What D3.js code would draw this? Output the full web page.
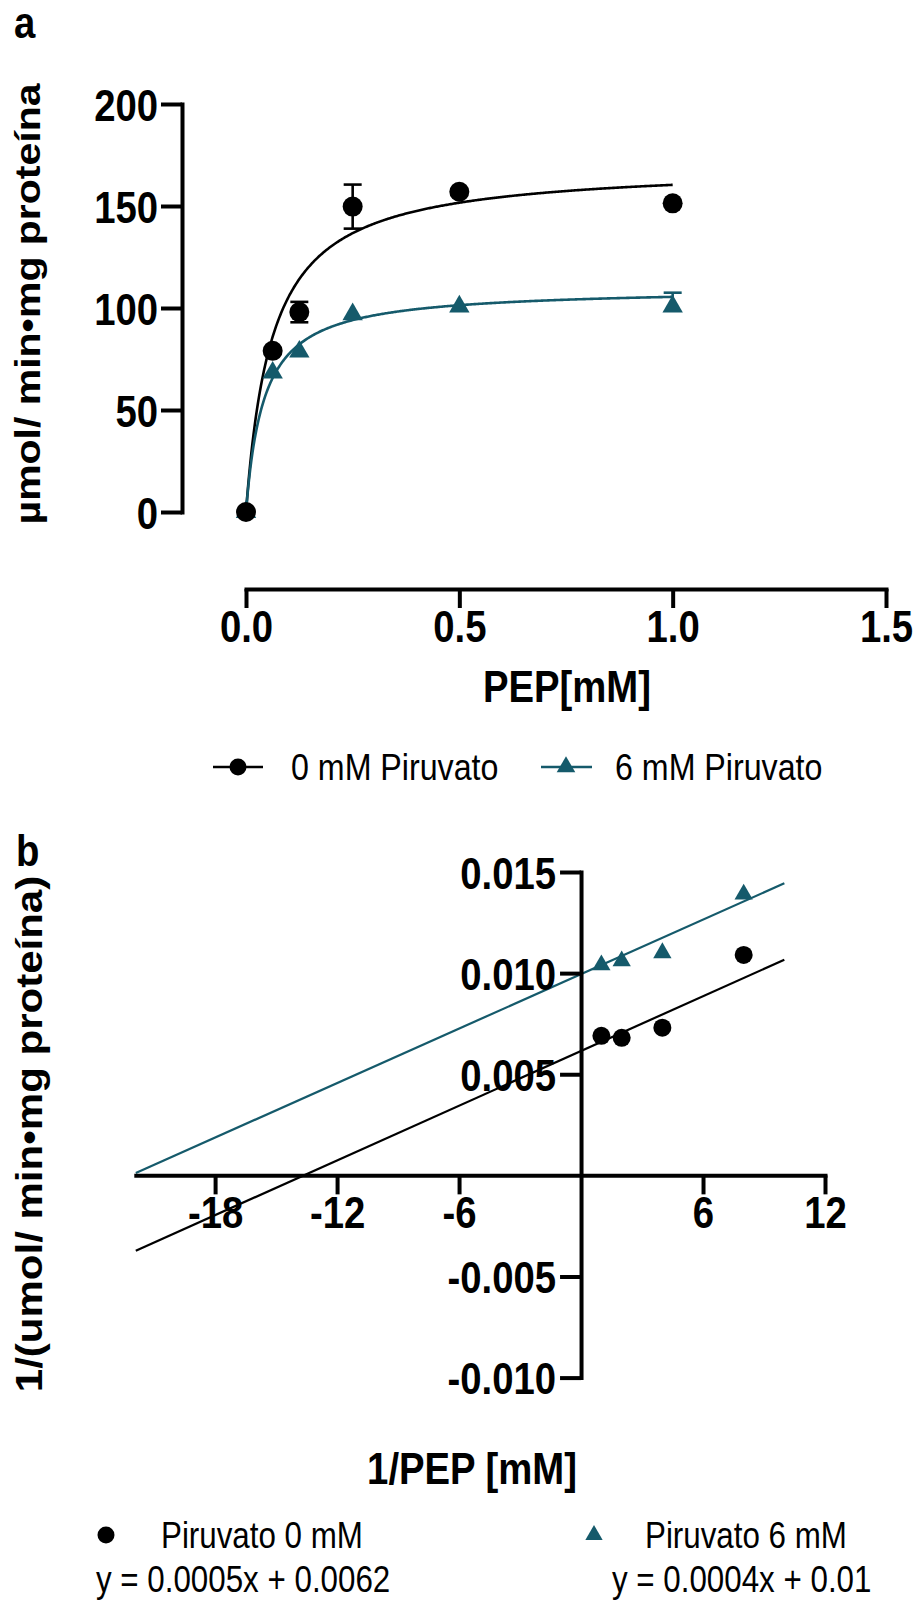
<!DOCTYPE html>
<html>
<head>
<meta charset="utf-8">
<script src="https://cdn.jsdelivr.net/npm/d3@7"></script>
<style>
  html, body { margin: 0; padding: 0; background: #fff; }
  svg { display: block; }
  text { font-family: "Liberation Sans", Arial, sans-serif; }
</style>
</head>
<body>
<svg id="fig" width="919" height="1600"></svg>
<script>
// ---- Panel a: Michaelis–Menten (velocity vs PEP) ----
const pep = [0, 0.0625, 0.125, 0.25, 0.5, 1.0];
const rate0 = [0, 79, 98, 149.7, 157, 151.3];
const sem0 = [0, 0, 5, 10.8, 0, 0];
const rate6 = [0, 68.3, 78.6, 96.9, 100.7, 100.7];
const sem6 = [0, 0, 0, 0, 0, 6.8];
const vmax = [170.2, 109.9];
const km = [0.0613, 0.0421];
const xTicksA = [0, 0.5, 1.0, 1.5];
const yTicksA = [0, 50, 100, 150, 200];
const legendA = ["0 mM Piruvato", "6 mM Piruvato"];

// ---- Panel b: Lineweaver–Burk (1/v vs 1/PEP) ----
const invPep = [1, 2, 4, 8];
const invRate0 = [0.0069, 0.0068, 0.0073, 0.0109];
const invRate6 = [0.0104, 0.0106, 0.0110, 0.0139];
const slopes = [0.000451, 0.000449];
const intercepts = [0.006151, 0.009951];
const xTicksB = [-18, -12, -6, 6, 12];
const yTicksB = [-0.010, -0.005, 0.005, 0.010, 0.015];
const legendB = ["Piruvato 0 mM", "Piruvato 6 mM"];

const TEAL = "#155a6b";
const BLACK = "#000";
const SQ = 0.87; // horizontal compression of lettering

const svg = d3.select("#fig");

function label(g, x, y, str, opt) {
  opt = opt || {};
  return g.append("text")
    .attr("transform", opt.rotate
      ? `translate(${x},${y}) rotate(-90) scale(1,${SQ})`
      : `translate(${x},${y}) scale(${SQ},1)`)
    .attr("font-size", opt.size || 36)
    .attr("font-weight", opt.weight || "normal")
    .attr("text-anchor", opt.anchor || "start")
    .attr("fill", opt.fill || BLACK)
    .text(str);
}

function styleAxis(sel, width) {
  sel.select(".domain").attr("stroke", BLACK).attr("stroke-width", width).attr("stroke-linecap", "square");
  sel.selectAll(".tick line").attr("stroke", BLACK).attr("stroke-width", width);
  sel.selectAll(".tick text")
    .attr("font-family", '"Liberation Sans", Arial, sans-serif')
    .attr("font-weight", "bold")
    .attr("font-size", 44)
    .attr("fill", BLACK);
}

// ================= Panel a =================
const gA = svg.append("g");
label(gA, 14, 38, "a", { size: 44, weight: "bold" });

const xA = d3.scaleLinear().domain([0, 1.5]).range([246, 886]);
const yA = d3.scaleLinear().domain([0, 200]).range([512, 104]);

// y axis
const yAxA = gA.append("g").attr("transform", `translate(182,0)`)
  .call(d3.axisLeft(yA).tickValues(yTicksA).tickSize(21).tickSizeOuter(0).tickFormat(d3.format("d")));
styleAxis(yAxA, 4);
yAxA.selectAll(".tick text")
  .attr("x", null).attr("dy", null)
  .attr("transform", `translate(-24,16) scale(${SQ},1)`);

// x axis
const xAxA = gA.append("g").attr("transform", `translate(0,589)`)
  .call(d3.axisBottom(xA).tickValues(xTicksA).tickSize(19).tickSizeOuter(0).tickFormat(d3.format(".1f")));
styleAxis(xAxA, 4);
xAxA.selectAll(".tick text")
  .attr("y", null).attr("dy", null)
  .attr("transform", `translate(0,53) scale(${SQ},1)`);

label(gA, 567, 702, "PEP[mM]", { size: 44, weight: "bold", anchor: "middle" });
label(gA, 40, 304, "µmol/ min•mg proteína", { size: 41, weight: "bold", anchor: "middle", rotate: true });

// fitted saturation curves
const curveX = d3.range(0, 1.0 + 1e-9, 0.0025);
const lineA = d3.line().x(d => xA(d[0])).y(d => yA(d[1]));
[[vmax[0], km[0], BLACK], [vmax[1], km[1], TEAL]].forEach(([V, K, c]) => {
  gA.append("path")
    .attr("d", lineA(curveX.map(s => [s, V * s / (K + s)])))
    .attr("fill", "none").attr("stroke", c).attr("stroke-width", 2.6);
});

// error bars (both directions, or upward only)
function errBars(g, xs, ys, es, c, upOnly) {
  xs.forEach((x, i) => {
    if (!es[i]) return;
    const cx = xA(x), top = yA(ys[i] + es[i]), bot = upOnly ? yA(ys[i]) : yA(ys[i] - es[i]);
    g.append("line").attr("x1", cx).attr("x2", cx).attr("y1", top).attr("y2", bot).attr("stroke", c).attr("stroke-width", 2.6);
    (upOnly ? [top] : [top, bot]).forEach(yy => g.append("line")
      .attr("x1", cx - 9).attr("x2", cx + 9).attr("y1", yy).attr("y2", yy)
      .attr("stroke", c).attr("stroke-width", 2.6));
  });
}
errBars(gA, pep, rate6, sem6, TEAL, true);
errBars(gA, pep, rate0, sem0, BLACK, false);

const triA = d3.symbol(d3.symbolTriangle).size(180);
gA.selectAll("path.tri").data(pep).join("path").attr("class", "tri")
  .attr("d", triA).attr("fill", TEAL)
  .attr("transform", (d, i) => `translate(${xA(d)},${yA(rate6[i])})`);
gA.selectAll("circle.pt").data(pep).join("circle").attr("class", "pt")
  .attr("cx", d => xA(d)).attr("cy", (d, i) => yA(rate0[i])).attr("r", 10).attr("fill", BLACK);

// legend a
const legY = 767;
gA.append("line").attr("x1", 213).attr("x2", 263).attr("y1", legY).attr("y2", legY).attr("stroke", BLACK).attr("stroke-width", 2.6);
gA.append("circle").attr("cx", 238).attr("cy", legY).attr("r", 8.5).attr("fill", BLACK);
label(gA, 291, legY + 13, legendA[0], { size: 37 });
gA.append("line").attr("x1", 541).attr("x2", 592).attr("y1", legY).attr("y2", legY).attr("stroke", TEAL).attr("stroke-width", 2.6);
gA.append("path").attr("d", d3.symbol(d3.symbolTriangle).size(150)).attr("fill", TEAL).attr("transform", `translate(566,${legY})`);
label(gA, 615, legY + 13, legendA[1], { size: 37 });

// ================= Panel b =================
const gB = svg.append("g");
label(gB, 16, 866, "b", { size: 44, weight: "bold" });

const xB = d3.scaleLinear().domain([-21.9, 12]).range([135.8, 825]);
const yB = d3.scaleLinear().domain([-0.010, 0.015]).range([1377.6, 872]);

// fitted lines (drawn first, behind axes and markers)
const lineB = d3.line().x(d => xB(d[0])).y(d => yB(d[1]));
[[slopes[0], intercepts[0], BLACK], [slopes[1], intercepts[1], TEAL]].forEach(([m, b, c]) => {
  gB.append("path")
    .attr("d", lineB([-21.9, 10].map(x => [x, m * x + b])))
    .attr("fill", "none").attr("stroke", c).attr("stroke-width", 2.2);
});

const xAxB = gB.append("g").attr("transform", `translate(0,${yB(0)})`)
  .call(d3.axisBottom(xB).tickValues(xTicksB).tickSize(19).tickSizeOuter(0).tickFormat(d => String(d)));
styleAxis(xAxB, 4);
xAxB.selectAll(".tick text")
  .attr("y", null).attr("dy", null)
  .attr("transform", `translate(0,53) scale(${SQ},1)`);

const yAxB = gB.append("g").attr("transform", `translate(${xB(0)},0)`)
  .call(d3.axisLeft(yB).tickValues(yTicksB).tickSize(21).tickSizeOuter(0).tickFormat(d => d.toFixed(3)));
styleAxis(yAxB, 4);
yAxB.selectAll(".tick text")
  .attr("x", null).attr("dy", null)
  .attr("transform", `translate(-25,16) scale(${SQ},1)`);

label(gB, 472, 1484, "1/PEP [mM]", { size: 44, weight: "bold", anchor: "middle" });
label(gB, 42, 1134, "1/(umol/ min•mg proteína)", { size: 42, weight: "bold", anchor: "middle", rotate: true });

const triB = d3.symbol(d3.symbolTriangle).size(145);
gB.selectAll("path.tri").data(invPep).join("path").attr("class", "tri")
  .attr("d", triB).attr("fill", TEAL)
  .attr("transform", (d, i) => `translate(${xB(d)},${yB(invRate6[i])})`);
gB.selectAll("circle.pt").data(invPep).join("circle").attr("class", "pt")
  .attr("cx", d => xB(d)).attr("cy", (d, i) => yB(invRate0[i])).attr("r", 9).attr("fill", BLACK);

// legend b with fitted equations
const eq = v => String(+v.toFixed(4));
const legBY = 1535;
gB.append("circle").attr("cx", 106).attr("cy", legBY).attr("r", 8.5).attr("fill", BLACK);
label(gB, 161, legBY + 13, legendB[0], { size: 36 });
gB.append("path").attr("d", d3.symbol(d3.symbolTriangle).size(130)).attr("fill", TEAL).attr("transform", `translate(594,${legBY})`);
label(gB, 645, legBY + 13, legendB[1], { size: 36 });
label(gB, 96, 1592, `y = ${eq(slopes[0])}x + ${eq(intercepts[0])}`, { size: 36 });
label(gB, 612, 1592, `y = ${eq(slopes[1])}x + ${eq(intercepts[1])}`, { size: 36 });
</script>
</body>
</html>
